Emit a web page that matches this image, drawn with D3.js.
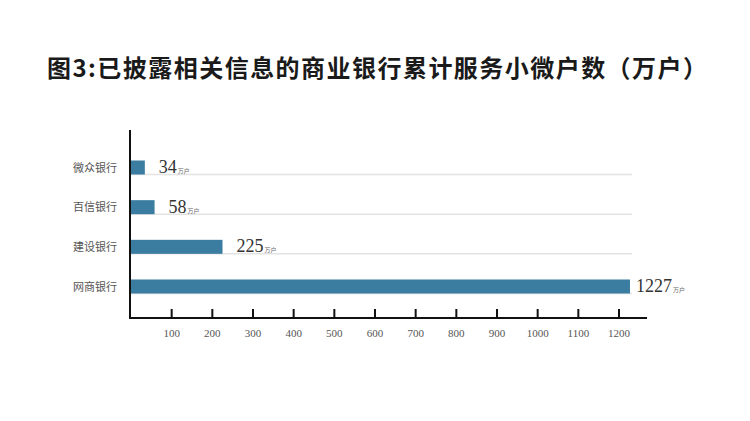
<!DOCTYPE html>
<html>
<head>
<meta charset="utf-8">
<script src="https://cdn.jsdelivr.net/npm/d3@7"></script>
<style>
  body { margin: 0; background: #fff; }
  svg { display: block; }
</style>
</head>
<body>
<div class="canvas"></div>
<script>
const banks = ['微众银行', '百信银行', '建设银行', '网商银行'];
const customers = [34, 58, 225, 1227];
const tickValues = [100, 200, 300, 400, 500, 600, 700, 800, 900, 1000, 1100, 1200];
const unitLabel = '万户';
const title = '图3:已披露相关信息的商业银行累计服务小微户数（万户）';

const dims = {
    width: 750,
    height: 421,
    axisLeft: 130,
    axisBottom: 318,
    axisTop: 130,
    axisRight: 647,
    gridRight: 632,
    barHeight: 14
};

const svg = d3.select('.canvas')
    .append('svg')
    .attr('width', dims.width)
    .attr('height', dims.height);

svg.append('rect')
    .attr('width', dims.width)
    .attr('height', dims.height)
    .attr('fill', '#fff');

svg.append('text')
    .attr('x', 377)
    .attr('y', 77)
    .attr('text-anchor', 'middle')
    .attr('textLength', 660)
    .attr('lengthAdjust', 'spacing')
    .style('font-family', '"Noto Sans CJK SC", sans-serif')
    .style('font-weight', 'bold')
    .style('font-size', '24px')
    .attr('fill', '#1a1a1a')
    .text(title);

const x = d3.scaleLinear()
    .domain([0, 1200])
    .range([131, 619]);

const y = d3.scalePoint()
    .domain(banks)
    .range([167.5, 286.5]);

const data = banks.map((name, i) => ({ name, value: customers[i] }));

// gridlines under each bar
svg.append('g')
    .selectAll('line')
    .data(data)
    .enter()
    .append('line')
    .attr('x1', dims.axisLeft)
    .attr('x2', dims.gridRight)
    .attr('y1', d => y(d.name) + dims.barHeight / 2)
    .attr('y2', d => y(d.name) + dims.barHeight / 2)
    .attr('stroke', '#e3e3e3')
    .attr('stroke-width', 1.5);

svg.append('g')
    .selectAll('rect')
    .data(data)
    .enter()
    .append('rect')
    .attr('x', dims.axisLeft)
    .attr('y', d => y(d.name) - dims.barHeight / 2)
    .attr('width', d => x(d.value) - dims.axisLeft)
    .attr('height', dims.barHeight)
    .attr('fill', '#3b7ca1');

// category labels
svg.append('g')
    .selectAll('text')
    .data(data)
    .enter()
    .append('text')
    .attr('x', 117)
    .attr('y', d => y(d.name) + 4)
    .attr('text-anchor', 'end')
    .style('font-family', '"Noto Sans CJK SC", sans-serif')
    .style('font-size', '11px')
    .attr('fill', '#555')
    .text(d => d.name);

// value labels
const valueLabels = svg.append('g')
    .selectAll('text')
    .data(data)
    .enter()
    .append('text')
    .attr('x', d => x(d.value) + (d.value > 1000 ? 6 : 14))
    .attr('y', d => y(d.name) + 5.5)
    .style('font-family', '"Liberation Serif", serif')
    .style('font-size', '18px')
    .attr('fill', '#333');

valueLabels.append('tspan').text(d => d.value);
valueLabels.append('tspan')
    .style('font-family', '"Noto Sans CJK SC", sans-serif')
    .style('font-size', '6px')
    .attr('fill', '#666')
    .attr('dx', 1)
    .text(unitLabel);

// axes
svg.append('line')
    .attr('x1', dims.axisLeft)
    .attr('x2', dims.axisLeft)
    .attr('y1', dims.axisTop)
    .attr('y2', dims.axisBottom + 1)
    .attr('stroke', '#111')
    .attr('stroke-width', 2);

svg.append('line')
    .attr('x1', dims.axisLeft - 1)
    .attr('x2', dims.axisRight)
    .attr('y1', dims.axisBottom)
    .attr('y2', dims.axisBottom)
    .attr('stroke', '#111')
    .attr('stroke-width', 2);

const ticks = svg.append('g')
    .selectAll('g')
    .data(tickValues)
    .enter()
    .append('g')
    .attr('transform', d => `translate(${x(d)}, ${dims.axisBottom})`);

ticks.append('line')
    .attr('y1', 0)
    .attr('y2', -9)
    .attr('stroke', '#111')
    .attr('stroke-width', 2);

ticks.append('text')
    .attr('y', 19)
    .attr('text-anchor', 'middle')
    .style('font-family', '"Liberation Serif", serif')
    .style('font-size', '11px')
    .attr('fill', '#555')
    .text(d => d);
</script>
</body>
</html>
